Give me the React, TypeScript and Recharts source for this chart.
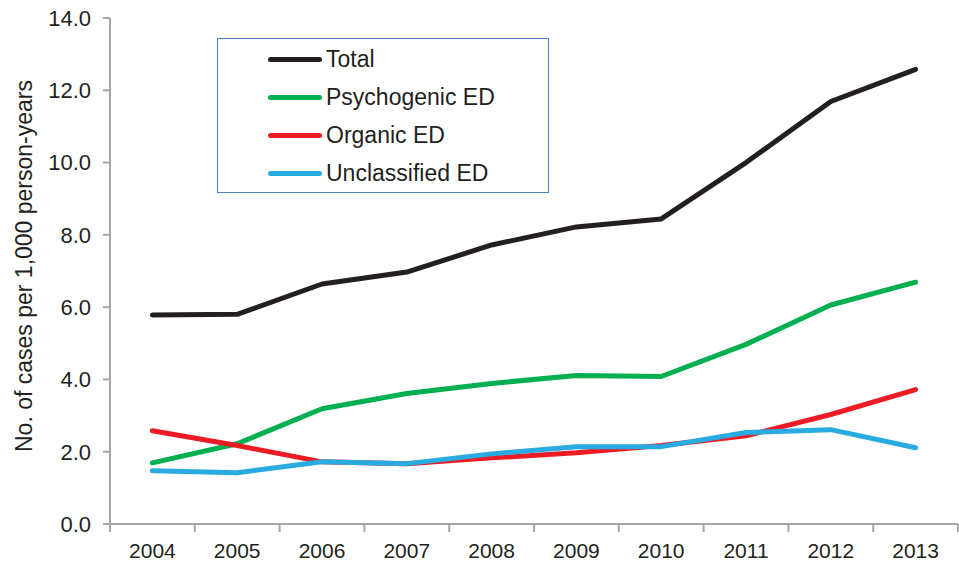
import { LineChart, Line, XAxis, YAxis } from 'recharts'

const years = [2004, 2005, 2006, 2007, 2008, 2009, 2010, 2011, 2012, 2013]
const total = [5.78, 5.8, 6.64, 6.97, 7.72, 8.22, 8.44, 10.0, 11.69, 12.58]
const psychogenic = [1.69, 2.22, 3.19, 3.61, 3.89, 4.11, 4.08, 4.97, 6.06, 6.69]
const organic = [2.58, 2.17, 1.72, 1.67, 1.83, 1.97, 2.17, 2.44, 3.03, 3.72]
const unclassified = [1.47, 1.42, 1.72, 1.67, 1.94, 2.14, 2.14, 2.53, 2.61, 2.11]
const yTicks = [0, 2, 4, 6, 8, 10, 12, 14]
// tick marks sit between the years, like an Excel category axis
const yearBounds = [2003.5, 2004.5, 2005.5, 2006.5, 2007.5, 2008.5, 2009.5, 2010.5, 2011.5, 2012.5, 2013.5]

const FONT = '"Liberation Sans", Arial, sans-serif'
const AXIS = '#a6a6a6'
const INK = '#231f20'

const SERIES = [
  { key: 'total', name: 'Total', color: '#231f20', values: total },
  { key: 'psychogenic', name: 'Psychogenic ED', color: '#00b050', values: psychogenic },
  { key: 'organic', name: 'Organic ED', color: '#ed1c24', values: organic },
  { key: 'unclassified', name: 'Unclassified ED', color: '#29abe2', values: unclassified },
]

const data = years.map((year, i) => {
  const row: Record<string, number> = { year }
  SERIES.forEach((s) => (row[s.key] = s.values[i]))
  return row
})

function YLabel({ viewBox }: any) {
  if (!viewBox) return null
  const x = viewBox.x + 24
  const y = viewBox.y + viewBox.height / 2 - 5
  return (
    <text
      x={x}
      y={y}
      transform={`rotate(-90 ${x} ${y})`}
      textAnchor="middle"
      dominantBaseline="central"
      fontSize={23}
      fontFamily={FONT}
      fill={INK}
    >
      No. of cases per 1,000 person-years
    </text>
  )
}

function LegendBox() {
  return (
    <div
      style={{
        position: 'absolute',
        left: 217,
        top: 38,
        width: 330,
        height: 153,
        border: '1.5px solid #4f81bd',
        background: '#fff',
        fontFamily: FONT,
        fontSize: 23,
        color: INK,
      }}
    >
      {SERIES.map((s, i) => (
        <div
          key={s.key}
          style={{ position: 'absolute', left: 50, top: 20 + i * 38 - 13, height: 26, display: 'flex', alignItems: 'center' }}
        >
          <span style={{ width: 54, height: 5, borderRadius: 3, background: s.color, display: 'inline-block' }} />
          <span style={{ marginLeft: 4, lineHeight: '26px' }}>{s.name}</span>
        </div>
      ))}
    </div>
  )
}

const axisStroke = { stroke: AXIS, strokeWidth: 2 }

export default function App() {
  return (
    <div style={{ position: 'absolute', left: 0, top: 0, width: 959, height: 564, background: '#fff' }}>
      <LineChart width={959} height={564} data={data} margin={{ top: 18, right: 1, bottom: 0, left: 0 }}>
        <YAxis
          width={110}
          domain={[0, 14]}
          ticks={yTicks}
          interval={0}
          tickFormatter={(v: number) => v.toFixed(1)}
          axisLine={axisStroke}
          tickLine={axisStroke}
          tickSize={7}
          tickMargin={12}
          tick={{ fill: INK, fontSize: 22, fontFamily: FONT }}
          label={<YLabel />}
        />
        <XAxis
          dataKey="year"
          type="number"
          domain={[2003.5, 2013.5]}
          ticks={yearBounds}
          interval={0}
          tickFormatter={() => ''}
          axisLine={axisStroke}
          tickLine={axisStroke}
          tickSize={8}
          height={1}
        />
        <XAxis
          xAxisId="labels"
          dataKey="year"
          type="number"
          domain={[2003.5, 2013.5]}
          ticks={years}
          interval={0}
          axisLine={false}
          tickLine={false}
          tickSize={0}
          tickMargin={18}
          height={39}
          tick={{ fill: INK, fontSize: 21, fontFamily: FONT }}
        />
        {SERIES.map((s) => (
          <Line
            key={s.key}
            type="linear"
            dataKey={s.key}
            name={s.name}
            stroke={s.color}
            strokeWidth={5}
            strokeLinecap="round"
            strokeLinejoin="round"
            dot={false}
            activeDot={false}
            isAnimationActive={false}
          />
        ))}
      </LineChart>
      <LegendBox />
    </div>
  )
}
